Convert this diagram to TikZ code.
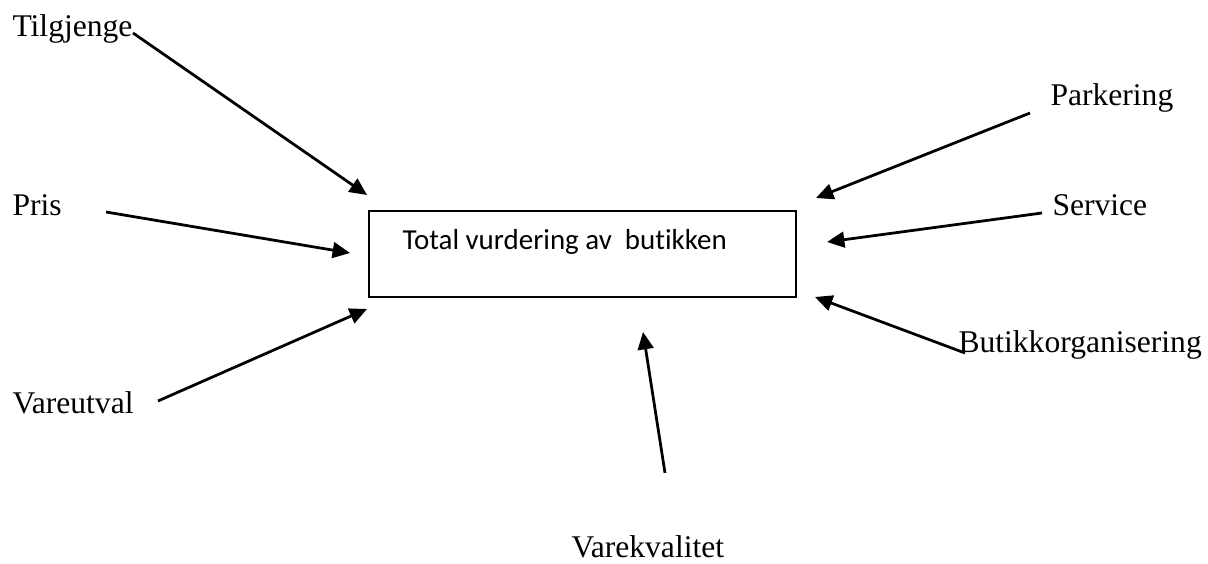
\documentclass[tikz,border=0pt]{standalone}
\usepackage{fontspec}
\setmainfont{Liberation Serif}
\newfontfamily\boxfont[Ligatures=NoCommon]{Carlito}
\usetikzlibrary{arrows.meta}
\begin{document}
\begin{tikzpicture}[x=0.38pt, y=-0.38pt,
  factor/.style={anchor=base west, inner sep=0pt, font=\fontsize{12}{14}\selectfont},
  pil/.style={line width=1.05pt, -{Triangle[length=6.6pt,width=6pt]}}]
\useasboundingbox (0,0) rectangle (1208,564);
% boksen i midten
\node [draw=black, line width=0.75pt, minimum width=427*0.38pt, minimum height=86*0.38pt, anchor=north west, inner sep=0pt] (box) at (368,210) {};
\node [anchor=base west, inner sep=0pt, font=\boxfont\fontsize{11}{13}\selectfont] (boxtext) at (402,250) {Total vurdering av\ \ butikken};
% faktorane
\node [factor] (tilgjenge) at (12,37) {Tilgjenge};
\node [factor] (pris) at (12,216) {Pris};
\node [factor] (vareutval) at (12,413) {Vareutval};
\node [factor] (parkering) at (1050,106) {Parkering};
\node [factor] (service) at (1052,216) {Service};
\node [factor] (butikkorg) at (958,353) {Butikkorganisering};
\node [factor] (varekvalitet) at (571,557) {Varekvalitet};
% endepunkt for pilene
\coordinate (t1) at (133,33);  \coordinate (t2) at (367,195);
\coordinate (p1) at (106,212); \coordinate (p2) at (350,253);
\coordinate (v1) at (158,401); \coordinate (v2) at (367,309);
\coordinate (k1) at (1030,113); \coordinate (k2) at (816,198);
\coordinate (s1) at (1042,213); \coordinate (s2) at (827,242);
\coordinate (b1) at (965,353); \coordinate (b2) at (815,297);
\coordinate (q1) at (665,473); \coordinate (q2) at (643,332);
\draw [pil] (t1) -- (t2);
\draw [pil] (p1) -- (p2);
\draw [pil] (v1) -- (v2);
\draw [pil] (k1) -- (k2);
\draw [pil] (s1) -- (s2);
\draw [pil] (b1) -- (b2);
\draw [pil] (q1) -- (q2);
\end{tikzpicture}
\end{document}
